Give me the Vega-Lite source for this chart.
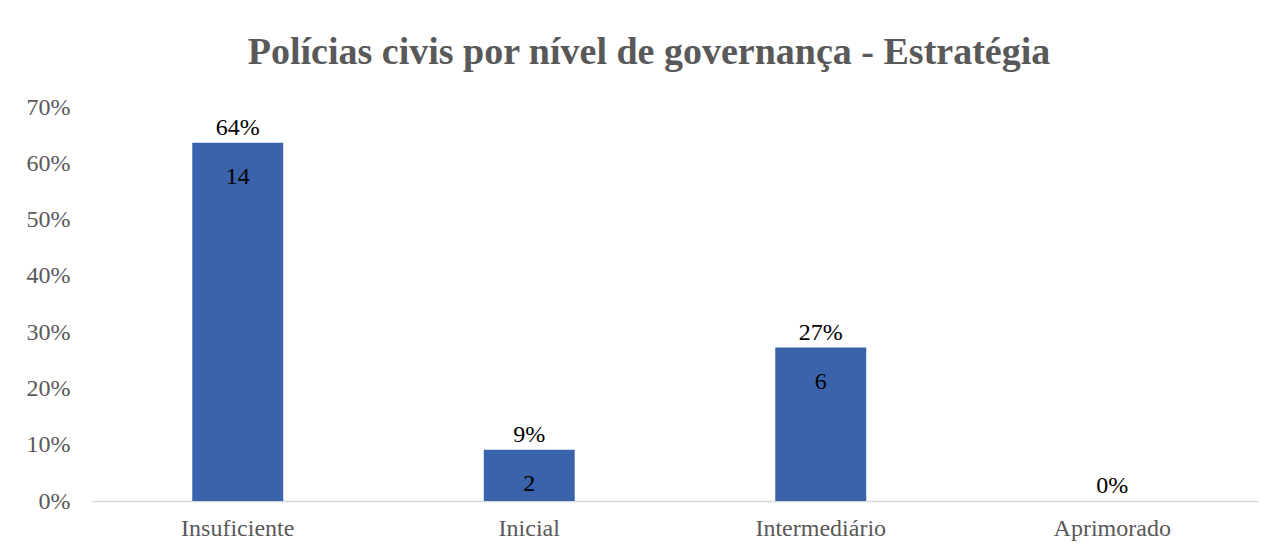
{
  "$schema": "https://vega.github.io/schema/vega-lite/v6.json",
  "width": 1166,
  "height": 394,
  "autosize": {"type": "none"},
  "padding": {"left": 92, "top": 107, "right": 20, "bottom": 49},
  "background": "white",
  "title": {
    "text": "Polícias civis por nível de governança - Estratégia",
    "font": "Liberation Serif",
    "fontSize": 38,
    "fontWeight": "bold",
    "color": "#595959",
    "anchor": "middle",
    "dx": -26,
    "offset": 23
  },
  "data": {
    "values": [
      {"nivel": "Insuficiente", "count": 14, "pct": 0.6364},
      {"nivel": "Inicial", "count": 2, "pct": 0.0909},
      {"nivel": "Intermediário", "count": 6, "pct": 0.2727},
      {"nivel": "Aprimorado", "count": 0, "pct": 0}
    ]
  },
  "encoding": {
    "x": {
      "field": "nivel",
      "type": "nominal",
      "sort": null,
      "scale": {"paddingInner": 0.688, "paddingOuter": 0.344},
      "axis": {
        "title": null,
        "labelAngle": 0,
        "labelFont": "Liberation Serif",
        "labelFontSize": 24,
        "labelColor": "#595959",
        "labelPadding": 15,
        "ticks": false,
        "domainColor": "#D9D9D9",
        "domainWidth": 1.5,
        "grid": false
      }
    },
    "y": {
      "field": "pct",
      "type": "quantitative",
      "scale": {"domain": [0, 0.7], "nice": false},
      "axis": {
        "title": null,
        "format": ".0%",
        "values": [0, 0.1, 0.2, 0.3, 0.4, 0.5, 0.6, 0.7],
        "labelFont": "Liberation Serif",
        "labelFontSize": 24,
        "labelColor": "#595959",
        "labelPadding": 22,
        "ticks": false,
        "domain": false,
        "grid": false
      }
    }
  },
  "layer": [
    {"mark": {"type": "bar", "color": "#3B63AB"}},
    {
      "mark": {"type": "text", "baseline": "bottom", "dy": -3, "font": "Liberation Serif", "fontSize": 24, "color": "#000000"},
      "encoding": {"text": {"field": "pct", "type": "quantitative", "format": ".0%"}}
    },
    {
      "transform": [{"filter": "datum.count > 0"}],
      "mark": {"type": "text", "baseline": "middle", "dy": 34, "font": "Liberation Serif", "fontSize": 24, "color": "#000000"},
      "encoding": {"text": {"field": "count", "type": "quantitative"}}
    }
  ],
  "config": {"view": {"stroke": null}}
}
